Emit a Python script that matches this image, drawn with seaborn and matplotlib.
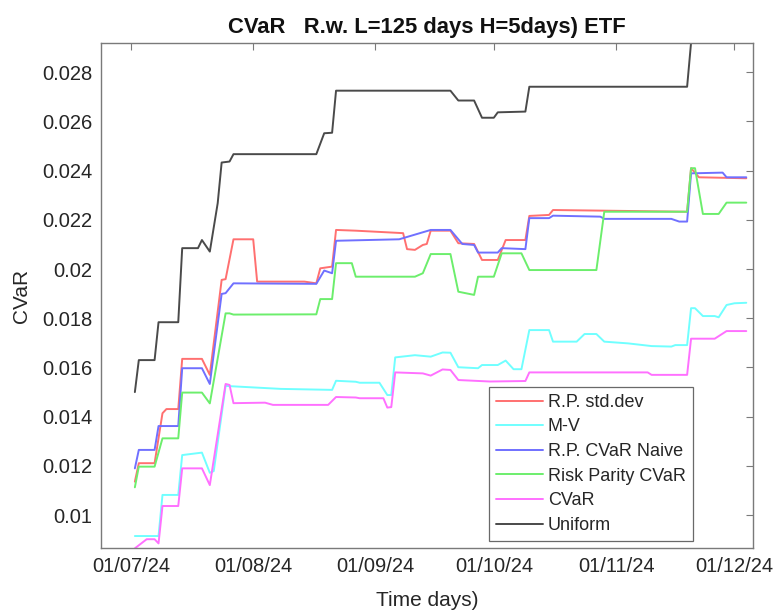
import pandas as pd
import matplotlib
matplotlib.use("Agg")
import matplotlib.pyplot as plt
import seaborn as sns

# --- data (vertices of each line) ---
uniform_dates = ["2024-07-02", "2024-07-03", "2024-07-07", "2024-07-08", "2024-07-13", "2024-07-14",
                 "2024-07-18", "2024-07-19", "2024-07-21", "2024-07-23", "2024-07-24", "2024-07-26",
                 "2024-07-27", "2024-08-17", "2024-08-19", "2024-08-21", "2024-08-22", "2024-09-20",
                 "2024-09-22", "2024-09-26", "2024-09-28", "2024-10-01", "2024-10-02", "2024-10-09",
                 "2024-10-10", "2024-11-19", "2024-11-20", "2024-12-04"]
uniform_vals = [0.0150, 0.0163, 0.0163, 0.01784, 0.01784, 0.02085,
                0.02085, 0.02118, 0.02071, 0.02268, 0.02433, 0.02437,
                0.02467, 0.02467, 0.02552, 0.02554, 0.02725, 0.02725,
                0.02685, 0.02685, 0.02615, 0.02615, 0.02637, 0.0264,
                0.02741, 0.02741, 0.0292, 0.0292]

rp_std_dates = ["2024-07-02", "2024-07-03", "2024-07-07", "2024-07-09", "2024-07-10", "2024-07-13",
                "2024-07-14", "2024-07-19", "2024-07-21", "2024-07-24", "2024-07-25", "2024-07-27",
                "2024-08-01", "2024-08-02", "2024-08-14", "2024-08-17", "2024-08-18", "2024-08-21",
                "2024-08-22", "2024-08-27", "2024-09-08", "2024-09-09", "2024-09-11", "2024-09-13",
                "2024-09-14", "2024-09-15", "2024-09-20", "2024-09-22", "2024-09-26", "2024-09-28",
                "2024-10-02", "2024-10-04", "2024-10-09", "2024-10-10", "2024-10-15", "2024-10-16",
                "2024-11-19", "2024-11-20", "2024-11-22", "2024-12-04"]
rp_std_vals = [0.01136, 0.01211, 0.01211, 0.01414, 0.01431, 0.01431,
               0.01635, 0.01635, 0.0157, 0.01956, 0.01959, 0.02121,
               0.02121, 0.01949, 0.01949, 0.01942, 0.02003, 0.0201,
               0.02159, 0.02156, 0.02146, 0.02081, 0.02078, 0.02098,
               0.02102, 0.02156, 0.02156, 0.02105, 0.02102, 0.02037,
               0.02037, 0.02118, 0.02118, 0.02216, 0.0222, 0.0224,
               0.02233, 0.0241, 0.02373, 0.02369]

mv_dates = ["2024-07-02", "2024-07-08", "2024-07-09", "2024-07-13", "2024-07-14", "2024-07-19",
            "2024-07-21", "2024-07-22", "2024-07-25", "2024-08-08", "2024-08-21", "2024-08-22",
            "2024-08-27", "2024-08-28", "2024-09-02", "2024-09-04", "2024-09-05", "2024-09-06",
            "2024-09-11", "2024-09-15", "2024-09-18", "2024-09-20", "2024-09-22", "2024-09-27",
            "2024-09-28", "2024-10-02", "2024-10-04", "2024-10-06", "2024-10-08", "2024-10-10",
            "2024-10-15", "2024-10-16", "2024-10-22", "2024-10-24", "2024-10-27", "2024-10-29",
            "2024-11-04", "2024-11-10", "2024-11-15", "2024-11-16", "2024-11-19", "2024-11-20",
            "2024-11-21", "2024-11-23", "2024-11-26", "2024-11-27", "2024-11-29", "2024-12-01",
            "2024-12-04"]
mv_vals = [0.00915, 0.00915, 0.01082, 0.01082, 0.01244, 0.01254,
           0.01172, 0.01179, 0.01525, 0.01513, 0.01509, 0.01546,
           0.01542, 0.01538, 0.01538, 0.01488, 0.01488, 0.01641,
           0.0165, 0.01644, 0.01661, 0.0166, 0.01601, 0.01597,
           0.0161, 0.0161, 0.01628, 0.01593, 0.01593, 0.01752,
           0.01752, 0.01705, 0.01705, 0.01736, 0.01736, 0.01705,
           0.01698, 0.01687, 0.01685, 0.01691, 0.01691, 0.01841,
           0.01841, 0.01809, 0.01809, 0.01804, 0.01854, 0.01861,
           0.01863]

rp_naive_dates = ["2024-07-02", "2024-07-03", "2024-07-07", "2024-07-08", "2024-07-13", "2024-07-14",
                  "2024-07-19", "2024-07-21", "2024-07-24", "2024-07-25", "2024-07-27", "2024-08-17",
                  "2024-08-19", "2024-08-21", "2024-08-22", "2024-09-07", "2024-09-15", "2024-09-20",
                  "2024-09-23", "2024-09-26", "2024-09-27", "2024-10-02", "2024-10-03", "2024-10-09",
                  "2024-10-10", "2024-10-15", "2024-10-16", "2024-10-28", "2024-10-29", "2024-11-15",
                  "2024-11-17", "2024-11-19", "2024-11-20", "2024-11-28", "2024-11-29", "2024-12-04"]
rp_naive_vals = [0.0119, 0.01265, 0.01265, 0.01362, 0.01362, 0.01597,
                 0.01597, 0.01533, 0.01899, 0.01902, 0.01942, 0.0194,
                 0.01994, 0.01983, 0.02115, 0.02121, 0.02159, 0.02159,
                 0.02102, 0.02098, 0.02067, 0.02067, 0.02085, 0.02081,
                 0.02207, 0.02207, 0.02217, 0.02213, 0.02204, 0.02204,
                 0.02193, 0.02193, 0.02389, 0.02392, 0.02373, 0.02373]

rp_cvar_dates = ["2024-07-02", "2024-07-03", "2024-07-07", "2024-07-09", "2024-07-13", "2024-07-14",
                 "2024-07-19", "2024-07-21", "2024-07-25", "2024-07-26", "2024-07-27", "2024-08-17",
                 "2024-08-18", "2024-08-21", "2024-08-22", "2024-08-26", "2024-08-27", "2024-09-11",
                 "2024-09-13", "2024-09-15", "2024-09-20", "2024-09-22", "2024-09-26", "2024-09-27",
                 "2024-10-01", "2024-10-03", "2024-10-08", "2024-10-10", "2024-10-27", "2024-10-29",
                 "2024-11-19", "2024-11-20", "2024-11-21", "2024-11-23", "2024-11-27", "2024-11-29",
                 "2024-12-04"]
rp_cvar_vals = [0.01113, 0.01197, 0.01197, 0.01312, 0.01312, 0.01498,
                0.01498, 0.01454, 0.0182, 0.0182, 0.01815, 0.01816,
                0.01878, 0.01878, 0.02024, 0.02024, 0.01969, 0.01969,
                0.01983, 0.02061, 0.02061, 0.01908, 0.01895, 0.01969,
                0.01969, 0.02064, 0.02064, 0.01996, 0.01996, 0.02233,
                0.02233, 0.0241, 0.0241, 0.02224, 0.02224, 0.0227,
                0.0227]

cvar_dates = ["2024-07-02", "2024-07-05", "2024-07-07", "2024-07-08", "2024-07-09", "2024-07-13",
              "2024-07-14", "2024-07-19", "2024-07-21", "2024-07-25", "2024-07-26", "2024-07-27",
              "2024-08-04", "2024-08-06", "2024-08-20", "2024-08-22", "2024-08-27", "2024-08-28",
              "2024-09-03", "2024-09-04", "2024-09-05", "2024-09-06", "2024-09-13", "2024-09-15",
              "2024-09-18", "2024-09-20", "2024-09-22", "2024-09-30", "2024-10-09", "2024-10-10",
              "2024-11-09", "2024-11-10", "2024-11-19", "2024-11-20", "2024-11-26", "2024-11-29",
              "2024-12-04"]
cvar_vals = [0.00865, 0.00902, 0.00902, 0.00885, 0.01037, 0.01037,
             0.0119, 0.0119, 0.01122, 0.01533, 0.01529, 0.01455,
             0.01457, 0.01448, 0.01448, 0.0148, 0.01478, 0.01475,
             0.01475, 0.01437, 0.01439, 0.0158, 0.01576, 0.01567,
             0.01592, 0.0159, 0.01549, 0.01543, 0.01545, 0.0158,
             0.0158, 0.0157, 0.0157, 0.01717, 0.01717, 0.01748,
             0.01748]

series_names = ["R.P. std.dev", "M-V", "R.P. CVaR Naive", "Risk Parity CVaR", "CVaR", "Uniform"]
series_dates = [rp_std_dates, mv_dates, rp_naive_dates, rp_cvar_dates, cvar_dates, uniform_dates]
series_vals = [rp_std_vals, mv_vals, rp_naive_vals, rp_cvar_vals, cvar_vals, uniform_vals]

xtick_dates = ["2024-07-01", "2024-08-01", "2024-09-01", "2024-10-01", "2024-11-01", "2024-12-01"]
xtick_labels = ["01/07/24", "01/08/24", "01/09/24", "01/10/24", "01/11/24", "01/12/24"]
ytick_vals = [0.010, 0.012, 0.014, 0.016, 0.018, 0.020, 0.022, 0.024, 0.026, 0.028]
ytick_labels = ["0.01", "0.012", "0.014", "0.016", "0.018", "0.02", "0.022", "0.024", "0.026", "0.028"]

colors = {"R.P. std.dev": "#ff7070", "M-V": "#70ffff", "R.P. CVaR Naive": "#7070ff",
          "Risk Parity CVaR": "#6cee6c", "CVaR": "#ff70ff", "Uniform": "#4a4a4a"}

frames = []
for name, d, v in zip(series_names, series_dates, series_vals):
    frames.append(pd.DataFrame({"date": pd.to_datetime(d), "value": v, "series": name}))
df = pd.concat(frames, ignore_index=True)

sns.set_style("white")
plt.rcParams["font.family"] = ["Liberation Sans", "DejaVu Sans"]

fig = plt.figure(figsize=(7.74, 6.10), dpi=100)
ax = fig.add_axes([0.1305, 0.1011, 0.8424, 0.8289])

sns.lineplot(data=df, x="date", y="value", hue="series", hue_order=series_names,
             palette=colors, linewidth=1.4, estimator=None, sort=True, ax=ax)

ax.set_xlim(pd.Timestamp("2024-06-23 10:00"), pd.Timestamp("2024-12-05 17:00"))
ax.set_ylim(0.00865, 0.0292)
ax.set_xticks(pd.to_datetime(xtick_dates))
ax.set_xticklabels(xtick_labels)
ax.set_yticks(ytick_vals)
ax.set_yticklabels(ytick_labels)

ax.tick_params(direction="in", top=True, right=True, length=5, width=0.8,
               color="#7a7a7a", labelsize=14.5, labelcolor="#262626", pad=6)
for s in ax.spines.values():
    s.set_color("#7a7a7a")
    s.set_linewidth(1.0)

ax.set_title("CVaR   R.w. L=125 days H=5days) ETF", fontsize=15.8, fontweight="bold",
             color="#111111", pad=7)
ax.set_xlabel("Time days)", fontsize=15, color="#262626", labelpad=11)
ax.set_ylabel("CVaR", fontsize=15, color="#262626", labelpad=8)

handles, labels = ax.get_legend_handles_labels()
leg = ax.legend(handles, labels, loc="lower right", bbox_to_anchor=(0.908, 0.0144),
                borderaxespad=0, fontsize=13, frameon=True, fancybox=False,
                handlelength=2.6, handletextpad=0.25, labelspacing=0.42, borderpad=0.4)
leg.get_frame().set_edgecolor("#444444")
leg.get_frame().set_linewidth(0.9)
for t in leg.get_texts():
    t.set_color("#262626")

fig.savefig("out.png", dpi=100)
